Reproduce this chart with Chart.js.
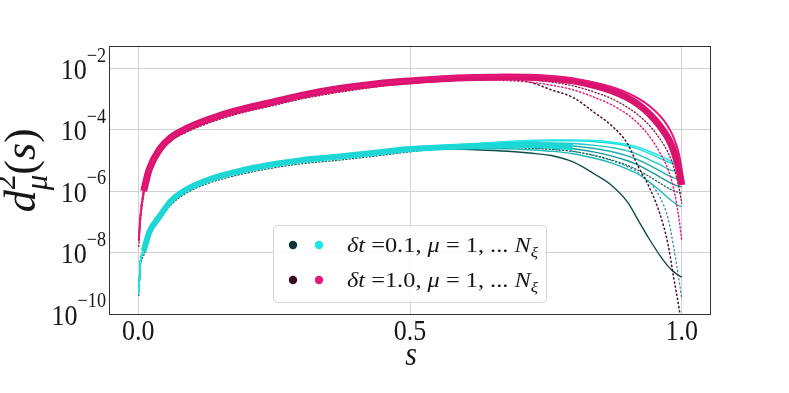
<!DOCTYPE html>
<html>
<head>
<meta charset="utf-8">
<script src="https://cdn.jsdelivr.net/npm/chart.js@4.4.1/dist/chart.umd.min.js"></script>
<style>
  html, body { margin: 0; padding: 0; background: #fff; }
</style>
</head>
<body>
<canvas id="distChart" width="789" height="393"></canvas>
<script>
// s positions shared by every curve
const sValues = [0.001, 0.004, 0.01, 0.02, 0.04, 0.06, 0.09, 0.13, 0.18, 0.24, 0.30, 0.37, 0.44, 0.50,
                 0.56, 0.62, 0.68, 0.72, 0.76, 0.80, 0.84, 0.87, 0.90, 0.92, 0.94, 0.96, 0.975, 0.985, 0.995, 1.0];

// log10 d^2 on the common rising part (s <= 0.5)
const cyanRise = [-9.3, -8.3, -7.95, -7.35, -6.8, -6.32, -5.93, -5.62, -5.37, -5.15, -4.99, -4.87, -4.74, -4.63];
const pinkRise = [-7.6, -6.8, -6.0, -5.3, -4.62, -4.25, -3.95, -3.66, -3.38, -3.13, -2.88, -2.66, -2.5, -2.41];
// darker members along the lower edge of each band
const cyanEdgeRise = [-9.4, -8.45, -8.1, -7.5, -6.93, -6.45, -6.05, -5.74, -5.49, -5.27, -5.11, -4.99, -4.85, -4.72];
const pinkEdgeRise = [-7.8, -7.0, -6.15, -5.45, -4.75, -4.37, -4.07, -3.78, -3.5, -3.25, -3.0, -2.78, -2.6, -2.5];

// log10 d^2 tails, s = 0.56 ... 1.0   (dt = 0.1)
const cyanBandTail = [-4.57, -4.53, -4.5, -4.5, -4.52, -4.57, null, null, null, null, null, null, null, null, null, null];
const cyanTailTop2 = [-4.52, -4.45, -4.38, -4.35, -4.33, -4.33, -4.35, -4.4, -4.48, -4.57, -4.7, -4.85, -4.98, -5.05, -5.1, -5.12];
const cyanTailTop  = [-4.54, -4.47, -4.41, -4.38, -4.36, -4.36, -4.39, -4.44, -4.53, -4.63, -4.77, -4.93, -5.05, -5.11, -5.16, -5.19];
const cyanTailA    = [-4.56, -4.5, -4.45, -4.43, -4.43, -4.45, -4.51, -4.58, -4.69, -4.81, -4.97, -5.14, -5.28, -5.34, -5.39, -5.41];
const cyanTailB    = [-4.57, -4.53, -4.49, -4.48, -4.49, -4.53, -4.61, -4.71, -4.85, -4.98, -5.15, -5.34, -5.49, -5.56, -5.61, -5.62];
const cyanTailC    = [-4.59, -4.56, -4.53, -4.53, -4.56, -4.62, -4.73, -4.85, -5.01, -5.15, -5.34, -5.54, -5.69, -5.78, -5.84, -5.86];
const cyanTailD    = [-4.62, -4.6, -4.58, -4.6, -4.64, -4.71, -4.84, -4.98, -5.16, -5.32, -5.52, -5.74, -5.9, -5.99, -6.04, -6.06];
const cyanTailE    = [-4.62, -4.62, -4.62, -4.65, -4.7, -4.78, -4.93, -5.08, -5.28, -5.45, -5.7, -5.98, -6.22, -6.36, -6.48, -6.5];
const cyanTailDark = [-4.62, -4.65, -4.7, -4.76, -4.84, -5.05, -5.45, -5.8, -6.35, -6.95, -7.55, -8.1, -8.45, -8.62, -8.75, -8.8];
const cyanTailDots = [-4.6, -4.58, -4.57, -4.59, -4.63, -4.7, -4.85, -5.0, -5.2, -5.4, -5.7, -6.2, -6.9, -7.8, -8.9, -9.5];

// log10 d^2 tails, s = 0.56 ... 1.0   (dt = 1.0)
const pinkTailMain   = [-2.34, -2.3, -2.28, -2.29, -2.33, -2.41, -2.56, -2.72, -2.96, -3.18, -3.48, -3.88, -4.28, -4.68, -5.3, -5.8];
const pinkTailHigh   = [-2.3, -2.26, -2.24, -2.24, -2.27, -2.34, -2.47, -2.6, -2.8, -2.98, -3.22, -3.55, -3.9, -4.25, -4.8, -5.3];
const pinkTailLow1   = [-2.41, -2.37, -2.36, -2.38, -2.45, -2.57, -2.78, -2.98, -3.27, -3.52, -3.85, -4.3, -4.75, -5.2, -5.9, -6.4];
const pinkTailLow2   = [-2.4, -2.38, -2.4, -2.45, -2.55, -2.7, -2.95, -3.18, -3.5, -3.8, -4.2, -4.75, -5.3, -5.9, -6.9, -7.6];
const pinkTailMaroon = [-2.36, -2.33, -2.36, -2.45, -2.7, -2.95, -3.45, -3.85, -4.45, -5.2, -5.86, -6.75, -7.75, -8.8, -9.8, -10.4];

const yTickExponents = [-2, -4, -6, -8, -10];
const xTickValues = [0.0, 0.5, 1.0];
const xTickLabels = ['0.0', '0.5', '1.0'];
const legendDt = ['0.1', '1.0'];

const SERIF = '"Liberation Serif", "DejaVu Serif", serif';
const VSTRETCH = 1.14;

function curve(rise, tail, skipFirst) {
    const logs = rise.concat(tail);
    return sValues.map((s, i) => ({
        x: s,
        y: (logs[i] === null || i < skipFirst) ? null : Math.pow(10, logs[i])
    }));
}

function lineSet(rise, tail, color, width, dash, skipFirst) {
    return {
        data: curve(rise, tail, skipFirst || 0),
        borderColor: color,
        borderWidth: width,
        borderDash: dash || [],
        pointRadius: 0,
        cubicInterpolationMode: 'monotone',
        spanGaps: false,
        clip: 0,
        borderCapStyle: dash ? 'round' : 'butt'
    };
}

// text runs: [{t, it, sc, rise, hold}]
function drawRun(ctx, parts, x, y, size, dry) {
    let cx = x;
    let held = 0;
    parts.forEach(p => {
        const fs = size * (p.sc || 1);
        ctx.font = (p.it ? 'italic ' : '') + fs.toFixed(1) + 'px ' + SERIF;
        const w = ctx.measureText(p.t).width;
        if (!dry) ctx.fillText(p.t, cx, y - (p.rise || 0) * size);
        if (p.hold) {
            held = Math.max(held, w);
        } else {
            cx += Math.max(w, held);
            held = 0;
        }
    });
    return cx - x;
}

const textPlugin = {
    id: 'mplText',
    afterDatasetsDraw(chart) {
        const ctx = chart.ctx;
        const a = chart.chartArea;
        const xs = chart.scales.x;
        const ys = chart.scales.y;

        // frame
        ctx.save();
        ctx.strokeStyle = '#333333';
        ctx.lineWidth = 1;
        ctx.strokeRect(a.left - 0.5, a.top, a.right - a.left + 1, a.bottom - a.top + 0.5);
        ctx.restore();

        ctx.save();
        ctx.fillStyle = '#161616';
        ctx.textBaseline = 'alphabetic';

        // y tick labels 10^k
        yTickExponents.forEach(k => {
            const py = ys.getPixelForValue(Math.pow(10, k));
            const parts = [{ t: '10' }, { t: '\u2212' + Math.abs(k), sc: 0.7, rise: 0.58 }];
            const size = 26;
            const w = drawRun(ctx, parts, 0, 0, size, true);
            ctx.save();
            ctx.translate(a.left - 4 - w, py + 10.5);
            ctx.scale(1, VSTRETCH);
            drawRun(ctx, parts, 0, 0, size);
            ctx.restore();
        });

        // x tick labels
        xTickValues.forEach((v, i) => {
            const px = xs.getPixelForValue(v);
            ctx.save();
            ctx.font = '26px ' + SERIF;
            const w = ctx.measureText(xTickLabels[i]).width;
            ctx.translate(px - w / 2, a.bottom + 26);
            ctx.scale(1, VSTRETCH);
            ctx.fillText(xTickLabels[i], 0, 0);
            ctx.restore();
        });

        // x title
        ctx.save();
        ctx.font = 'italic 30px ' + SERIF;
        const sw = ctx.measureText('s').width;
        ctx.translate((a.left + a.right) / 2 - sw / 2 + 1, a.bottom + 50.5);
        ctx.scale(1, VSTRETCH);
        ctx.fillText('s', 0, 0);
        ctx.restore();

        // y title d^2_mu(s)
        const yParts = [
            { t: 'd', it: true },
            { t: '2', sc: 0.7, rise: 0.45, hold: true },
            { t: '\u03bc', it: true, sc: 0.7, rise: -0.28 },
            { t: '(' }, { t: 's', it: true }, { t: ')' }
        ];
        const w32 = drawRun(ctx, yParts, 0, 0, 32, true);
        const ySize = 32 * 84 / w32;
        const yw = drawRun(ctx, yParts, 0, 0, ySize, true);
        ctx.save();
        ctx.translate(35, (a.top + a.bottom) / 2 - 10);
        ctx.rotate(-Math.PI / 2);
        drawRun(ctx, yParts, -yw / 2, 0, ySize);
        ctx.restore();

        ctx.restore();
    },
    afterDraw(chart) {
        const ctx = chart.ctx;
        const bx = 273, by = 225, bw = 273, bh = 77;
        ctx.save();
        ctx.beginPath();
        ctx.roundRect(bx + 0.5, by + 0.5, bw, bh, 4);
        ctx.fillStyle = 'rgba(255,255,255,0.8)';
        ctx.fill();
        ctx.strokeStyle = '#d6d6d6';
        ctx.lineWidth = 1;
        ctx.stroke();

        const dots = [['#0b3434', '#1fe6e6'], ['#3b0a22', '#ea1878']];
        legendDt.forEach((dt, r) => {
            const cy = 245 + r * 35;
            [293, 319].forEach((cx, j) => {
                ctx.beginPath();
                ctx.arc(cx, cy, 4.2, 0, Math.PI * 2);
                ctx.fillStyle = dots[r][j];
                ctx.fill();
            });
            const parts = [
                { t: '\u03b4t', it: true }, { t: ' =' + dt + ', ' },
                { t: '\u03bc', it: true }, { t: ' = 1, ... ' },
                { t: 'N', it: true }, { t: '\u03be', it: true, sc: 0.7, rise: -0.25 }
            ];
            ctx.fillStyle = '#161616';
            const size = 19;
            const w = drawRun(ctx, parts, 0, 0, size, true);
            ctx.save();
            ctx.translate(347, cy + 7);
            ctx.scale(191 / w, VSTRETCH);
            drawRun(ctx, parts, 0, 0, size);
            ctx.restore();
        });
        ctx.restore();
    }
};

document.addEventListener('DOMContentLoaded', () => {
    // listed bottom to top
    const stack = [
        lineSet(cyanRise, cyanTailDots, '#2a8c8c', 1.3, [1.2, 3]),
        lineSet(cyanRise, cyanTailDark, '#0f4c4c', 1.4),
        lineSet(cyanEdgeRise, cyanTailD, '#156a6a', 1.3, [1.2, 2.2]),
        lineSet(cyanRise, cyanTailC, '#1a9a9a', 1.4),
        lineSet(cyanRise, cyanTailE, '#1fb8b8', 1.4),
        lineSet(cyanRise, cyanTailB, '#1cb0b0', 1.4),
        lineSet(cyanRise, cyanTailA, '#1ec8c8', 1.4),
        lineSet(cyanRise, cyanTailTop, '#20dada', 1.4),
        lineSet(cyanRise, cyanTailTop2, '#22e8e8', 1.4),
        lineSet(cyanRise, cyanBandTail, '#1dd6d6', 6, null, 2),
        lineSet(pinkRise, pinkTailMaroon, '#4d0d2c', 1.5, [1.2, 3]),
        lineSet(pinkRise, pinkTailLow2, '#e0237c', 1.5, [1.2, 2.5]),
        lineSet(pinkEdgeRise, pinkTailLow1, '#8a1448', 1.3, [1.2, 2.2]),
        lineSet(pinkRise, pinkTailMain, '#d9146f', 7, null, 2),
        lineSet(pinkRise, pinkTailHigh, '#e8167a', 2)
    ];
    stack.forEach((d, i) => { d.order = stack.length - i; });

    new Chart(document.getElementById('distChart'), {
        type: 'line',
        data: { datasets: stack },
        options: {
            responsive: false,
            animation: false,
            events: [],
            layout: { padding: { left: 110, right: 79, top: 46.5, bottom: 0 } },
            plugins: { legend: { display: false }, tooltip: { enabled: false } },
            scales: {
                x: {
                    type: 'linear',
                    min: -0.052,
                    max: 1.052,
                    afterBuildTicks: s => { s.ticks = xTickValues.map(v => ({ value: v })); },
                    afterFit: s => { s.height = 79; },
                    ticks: { display: false },
                    grid: { color: '#d2d2d2', lineWidth: 1, drawTicks: false },
                    border: { display: false }
                },
                y: {
                    type: 'logarithmic',
                    min: 1e-10,
                    max: Math.pow(10, -1.29),
                    afterBuildTicks: s => { s.ticks = yTickExponents.map(k => ({ value: Math.pow(10, k) })); },
                    afterFit: s => { s.width = 0; },
                    ticks: { display: false },
                    grid: { color: '#d2d2d2', lineWidth: 1, drawTicks: false },
                    border: { display: false }
                }
            }
        },
        plugins: [textPlugin]
    });
});
</script>
</body>
</html>
